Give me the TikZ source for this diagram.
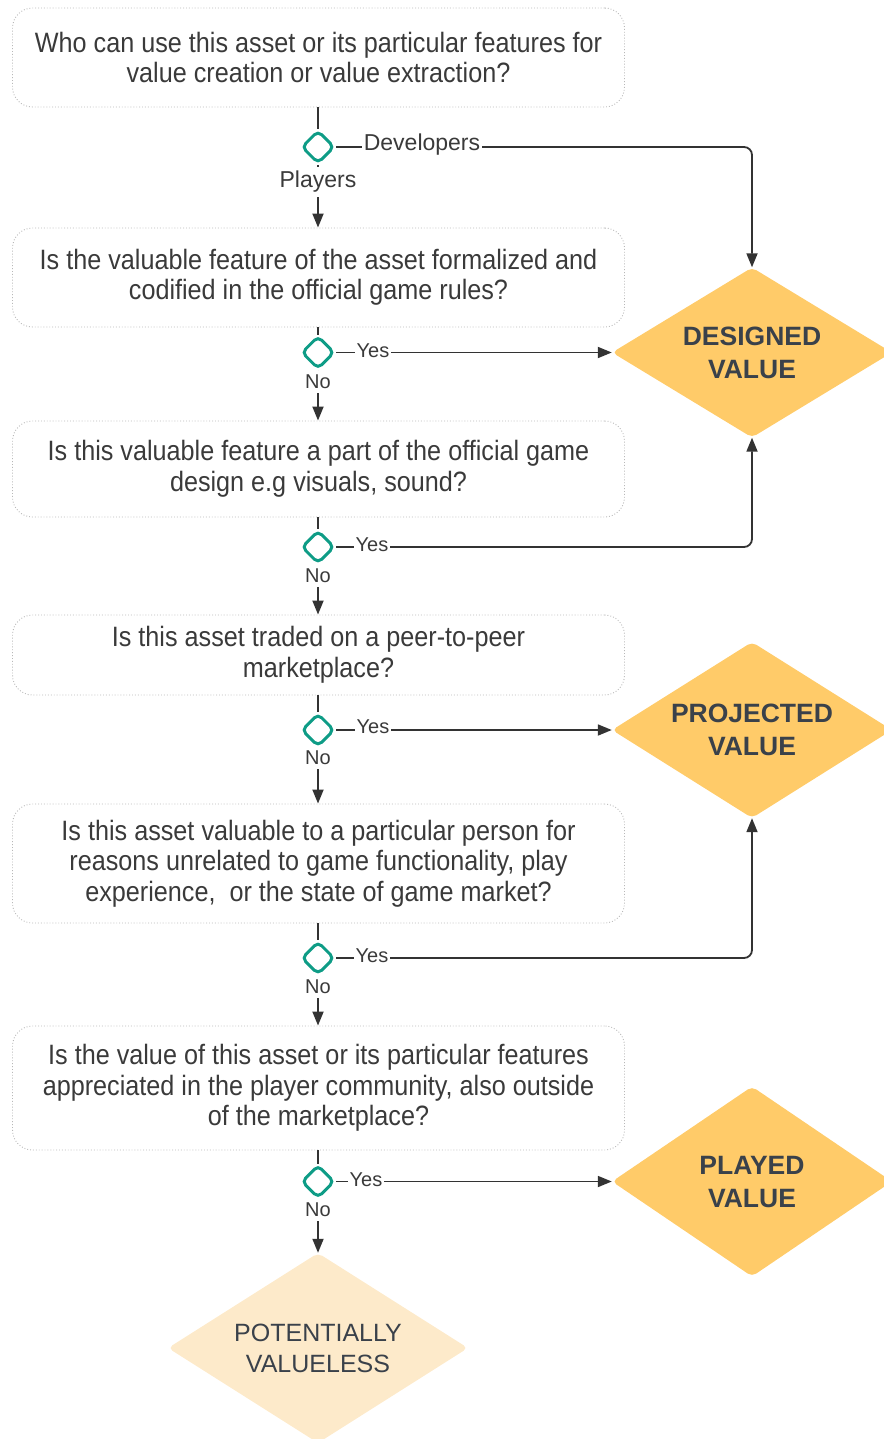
\documentclass[tikz,border=0pt]{standalone}
\usepackage{fontspec}
\setmainfont{Liberation Sans}
\newfontfamily\qfont{Liberation Sans}[FakeStretch=0.9]
\usetikzlibrary{shapes.geometric,arrows.meta}
\definecolor{ink}{HTML}{333333}
\definecolor{txt}{HTML}{3A3A3A}
\definecolor{slate}{HTML}{3A414A}
\definecolor{teal}{HTML}{0E9C86}
\definecolor{gold}{HTML}{FFCB69}
\definecolor{pale}{HTML}{FDEACA}
\definecolor{boxline}{HTML}{B8B8B8}
\begin{document}
\begin{tikzpicture}[x=1pt,y=-1pt,
  question/.style={draw=boxline, dotted, line width=0.9pt, rounded corners=20pt,
    minimum width=612pt, align=center, inner sep=0pt,
    font=\qfont\fontsize{28}{30.5}\selectfont, text=txt},
  decide/.style={diamond, draw=teal, line width=3pt, minimum width=33pt,
    minimum height=33pt, inner sep=0pt, rounded corners=5pt},
  outcome/.style={diamond, shape aspect=1.6, fill=gold, minimum width=280pt,
    inner sep=0pt, rounded corners=5pt, align=center, text=slate,
    font=\fontsize{26.5}{33}\selectfont\bfseries},
  label/.style={fill=white, inner sep=1.5pt, text=txt,
    font=\fontsize{20}{22}\selectfont},
  biglabel/.style={label, font=\fontsize{23}{25}\selectfont},
  flow/.style={draw=ink, line width=1.8pt, -{Triangle[length=14pt,width=11pt]}},
  link/.style={draw=ink, line width=1.8pt},
]
\useasboundingbox (0,0) rectangle (883,1439);

% questions
\node[question, minimum height=99pt] (q1) at (318.5,57.5)
  {Who can use this asset or its particular features for\\value creation or value extraction?};
\node[question, minimum height=99pt] (q2) at (318.5,277.5)
  {Is the valuable feature of the asset formalized and\\codified in the official game rules?};
\node[question, minimum height=96pt] (q3) at (318.5,469)
  {Is this valuable feature a part of the official game\\design e.g visuals, sound?};
\node[question, minimum height=80pt] (q4) at (318.5,655)
  {Is this asset traded on a peer-to-peer\\marketplace?};
\node[question, minimum height=119pt] (q5) at (318.5,863.5)
  {Is this asset valuable to a particular person for\\reasons unrelated to game functionality, play\\experience,\ \ or the state of game market?};
\node[question, minimum height=124pt] (q6) at (318.5,1088)
  {Is the value of this asset or its particular features\\appreciated in the player community, also outside\\of the marketplace?};

% decision points
\node[decide] (d1) at (318,147) {};
\node[decide] (d2) at (318,352.5) {};
\node[decide] (d3) at (318,547) {};
\node[decide] (d4) at (318,730) {};
\node[decide] (d5) at (318,958) {};
\node[decide] (d6) at (318,1181.5) {};

% outcomes
\node[outcome, minimum height=170pt] (dv) at (752,352.5) {DESIGNED\\VALUE};
\node[outcome, minimum height=176pt] (pv) at (752,730) {PROJECTED\\VALUE};
\node[outcome, minimum height=190pt] (plv) at (752,1181.5) {PLAYED\\VALUE};
\node[outcome, fill=pale, minimum width=300pt, minimum height=190pt,
  font=\fontsize{25}{31}\selectfont] (pvl) at (318,1348) {POTENTIALLY\\VALUELESS};

% questions into decisions
\foreach \q/\d in {q1/d1,q2/d2,q3/d3,q4/d4,q5/d5,q6/d6}
  \draw[link] (\d.north |- \q.south) -- (\d.north);

% "Developers" branch
\draw[flow, rounded corners=8pt] (d1.east) -- (752,147) -- (dv.north);
\node[biglabel] (ldev) at (422,145) {Developers};

% downward branches
\draw[flow] (d1.south) -- (d1.south |- q2.north);
\node[biglabel, inner sep=4pt] (lpl) at (318,182) {Players};
\draw[flow] (d2.south) -- (d2.south |- q3.north);
\node[label, inner sep=4pt] (ln2) at (318,382) {No};
\draw[flow] (d3.south) -- (d3.south |- q4.north);
\node[label, inner sep=4pt] (ln3) at (318,576) {No};
\draw[flow] (d4.south) -- (d4.south |- q5.north);
\node[label, inner sep=4pt] (ln4) at (318,758) {No};
\draw[flow] (d5.south) -- (d5.south |- q6.north);
\node[label, inner sep=4pt] (ln5) at (318,987) {No};
\draw[flow] (d6.south) -- (pvl.north);
\node[label, inner sep=4pt] (ln6) at (318,1210) {No};

% "Yes" branches
\draw[flow] (d2.east) -- (dv.west);
\node[label] (ly2) at (373,351) {Yes};
\draw[flow, rounded corners=8pt] (d3.east) -- (752,547) -- (dv.south);
\node[label] (ly3) at (372,545) {Yes};
\draw[flow] (d4.east) -- (pv.west);
\node[label] (ly4) at (373,727) {Yes};
\draw[flow, rounded corners=8pt] (d5.east) -- (752,958) -- (pv.south);
\node[label] (ly5) at (372,956) {Yes};
\draw[flow] (d6.east) -- (plv.west);
\node[label] (ly6) at (366,1179.5) {Yes};
\end{tikzpicture}
\end{document}
